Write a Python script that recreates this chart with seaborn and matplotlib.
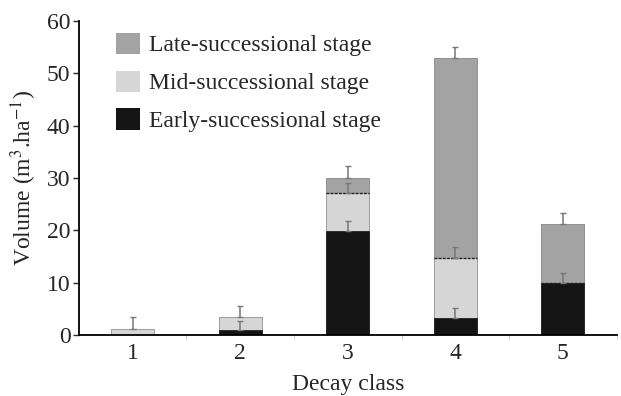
import matplotlib
matplotlib.use("Agg")
import matplotlib.pyplot as plt
import seaborn as sns
import numpy as np
import pandas as pd
from matplotlib.patches import Patch

classes = ["1", "2", "3", "4", "5"]
early = [0.0, 0.9, 19.9, 3.2, 9.9]
mid = [1.2, 2.5, 7.2, 11.6, 0.0]
late = [0.0, 0.0, 2.9, 38.1, 11.3]
early_err = [0.0, 1.8, 1.9, 1.9, 2.0]
mid_err = [2.2, 2.1, 1.9, 2.0, 0.0]
late_err = [0.0, 0.0, 2.2, 2.2, 2.1]

sns.set_style("white")
plt.rcParams['font.family'] = ['Liberation Serif', 'DejaVu Serif']
plt.rcParams['mathtext.fontset'] = 'stix'

e = np.array(early)
m = e + np.array(mid)
l = m + np.array(late)
df = pd.DataFrame({"cls": classes, "early": e, "mid": m, "late": l})

fig = plt.figure(figsize=(6.21, 3.96), dpi=100)
ax = fig.add_axes([0.127, 0.154, 0.866, 0.793])

c_late, c_mid, c_early = "#a3a3a3", "#d6d6d6", "#141414"
sns.barplot(data=df, x="cls", y="late", color=c_late, width=0.4, ax=ax,
            edgecolor="#888888", linewidth=0.6, saturation=1)
sns.barplot(data=df, x="cls", y="mid", color=c_mid, width=0.4, ax=ax,
            edgecolor="#999999", linewidth=0.6, saturation=1)
sns.barplot(data=df, x="cls", y="early", color=c_early, width=0.4, ax=ax,
            edgecolor="#222222", linewidth=0.6, saturation=1)

x = np.arange(len(classes))
# dashed boundary between mid and late
for xi, mv, lv in zip(x, m, late):
    if lv > 0 and mv > 0:
        ax.plot([xi - 0.2, xi + 0.2], [mv, mv], color="#222222", lw=1.0, ls=(0, (2, 1)))

def errs(vals, err):
    mask = np.array(err) > 0
    ax.errorbar(x[mask], np.array(vals)[mask], yerr=[np.zeros(mask.sum()), np.array(err)[mask]],
                fmt="none", ecolor="#777777", elinewidth=1.1, capsize=2.5, capthick=1.0)

errs(e, early_err)
errs(m, mid_err)
errs(l, late_err)

fs = 17
ax.set_ylim(0, 60)
ax.set_xlim(-0.5, 4.45)
ax.set_yticks([0, 10, 20, 30, 40, 50, 60])
ax.tick_params(axis="y", which="major", length=4, width=1, direction="out", labelsize=fs, pad=2, left=True)
ax.tick_params(axis="x", which="major", length=0, labelsize=fs, pad=6)
ax.set_xticks(x + 0.5, minor=True)
ax.tick_params(axis="x", which="minor", length=3, width=0.6, color="#bbbbbb", direction="out", bottom=True)
for s in ["top", "right"]:
    ax.spines[s].set_visible(False)
for s in ["left", "bottom"]:
    ax.spines[s].set_color("black")
    ax.spines[s].set_linewidth(1.3)

ax.set_xlabel("Decay class", fontsize=fs, labelpad=7)
ax.set_ylabel("Volume (m$^3$.ha$^{-1}$)", fontsize=fs, labelpad=6)

handles = [Patch(facecolor=c_late, edgecolor="none"),
           Patch(facecolor=c_mid, edgecolor="none"),
           Patch(facecolor=c_early, edgecolor="none")]
labels = ["Late-successional stage", "Mid-successional stage", "Early-successional stage"]
ax.legend(handles, labels, loc="upper left", bbox_to_anchor=(0.03, 1.03), frameon=False,
          fontsize=fs, handlelength=1.0, handleheight=1.0, handletextpad=0.4, labelspacing=0.6)

fig.savefig("out.png", dpi=100)
